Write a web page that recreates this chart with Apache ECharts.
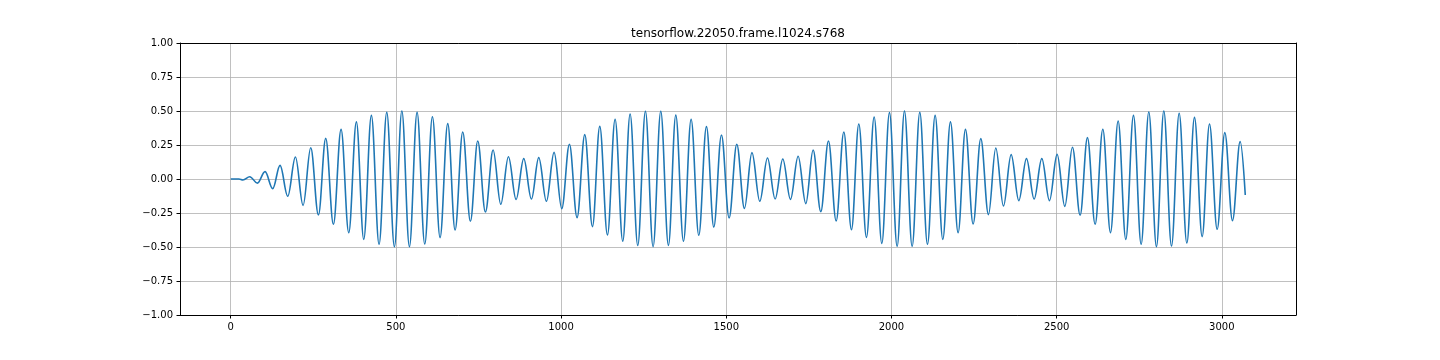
<!DOCTYPE html>
<html>
<head>
<meta charset="utf-8">
<script src="https://cdn.jsdelivr.net/npm/echarts@6/dist/echarts.min.js"></script>
<style>
html,body{margin:0;padding:0;background:#fff;}
#chart{width:1440px;height:360px;}
</style>
</head>
<body>
<div id="chart"></div>
<script>
var chartTitle = 'tensorflow.22050.frame.l1024.s768';
var xTicks = [0, 500, 1000, 1500, 2000, 2500, 3000];
var yTicks = [-1, -0.75, -0.5, -0.25, 0, 0.25, 0.5, 0.75, 1];
var sampleCount = 3072;

// Extrema of the waveform (sample index, amplitude)
var extremaX = [
  0, 25, 37, 57.5, 80.7, 103.9, 127.1, 149.3, 172.6, 195.8, 219.0, 242.2, 265.4, 287.6, 310.8, 334.0, 357.2, 380.4, 402.6, 425.8, 449.0, 472.3, 495.5, 518.0,
  540.9, 564.1, 587.3, 610.5, 633.7, 656.9, 679.1, 702.3, 725.5, 747.7, 770.9, 794.2, 817.4, 840.6, 863.8, 887.0, 910.2, 932.4, 955.6, 978.8, 1002.0, 1025.2, 1048.4,
  1071.7, 1094.9, 1117.1, 1140.3, 1163.5, 1186.7, 1208.9, 1232.1, 1255.3, 1278.5, 1301.7, 1324.9, 1347.2, 1370.4, 1393.6, 1416.8, 1440.0, 1462.2, 1485.4, 1508.6, 1531.8, 1555.0, 1577.7,
  1601.5, 1624.7, 1647.9, 1671.1, 1694.3, 1717.5, 1740.7, 1762.9, 1786.1, 1809.3, 1832.6, 1855.8, 1879.0, 1901.2, 1924.4, 1947.6, 1970.8, 1994.0, 2017.2, 2039.4, 2062.6, 2085.8, 2109.0,
  2132.2, 2155.4, 2178.6, 2201.8, 2224.0, 2247.2, 2270.4, 2293.6, 2315.8, 2339.0, 2362.3, 2385.5, 2408.7, 2431.9, 2455.1, 2478.3, 2501.5, 2524.7, 2547.9, 2571.1, 2593.3, 2616.5, 2639.8,
  2663.0, 2686.2, 2709.4, 2732.6, 2755.8, 2779.0, 2802.2, 2824.4, 2847.7, 2870.9, 2894.1, 2917.3, 2940.5, 2962.7, 2985.9, 3009.1, 3032.3, 3055.5, 3071
];
var extremaY = [
  0, 0, -0.007, 0.017, -0.03, 0.054, -0.071, 0.10, -0.127, 0.162, -0.194, 0.23, -0.265, 0.299, -0.333, 0.365, -0.395, 0.42, -0.444, 0.468, -0.48, 0.49, -0.498, 0.50,
  -0.498, 0.49, -0.478, 0.458, -0.431, 0.407, -0.375, 0.346, -0.311, 0.279, -0.243, 0.213, -0.186, 0.164, -0.15, 0.15, -0.147, 0.157, -0.164, 0.196, -0.218, 0.255, -0.284,
  0.326, -0.35, 0.387, -0.412, 0.439, -0.458, 0.478, -0.488, 0.498, -0.498, 0.498, -0.488, 0.47, -0.458, 0.439, -0.414, 0.385, -0.353, 0.324, -0.287, 0.255, -0.216, 0.194,
  -0.164, 0.154, -0.147, 0.147, -0.15, 0.167, -0.181, 0.213, -0.24, 0.279, -0.309, 0.346, -0.373, 0.404, -0.429, 0.456, -0.473, 0.488, -0.495, 0.5, -0.495, 0.49, -0.48,
  0.468, -0.444, 0.42, -0.395, 0.365, -0.331, 0.297, -0.262, 0.228, -0.199, 0.179, -0.159, 0.15, -0.147, 0.15, -0.159, 0.181, -0.201, 0.233, -0.267, 0.304, -0.333, 0.366,
  -0.395, 0.426, -0.444, 0.468, -0.48, 0.493, -0.498, 0.5, -0.493, 0.483, -0.471, 0.453, -0.424, 0.404, -0.37, 0.341, -0.306, 0.275, -0.118
];

var seriesData = extremaX.map(function (x, i) { return [x, extremaY[i]]; });
var pad = (sampleCount - 1) * 0.05;
var FONT = 'DejaVu Sans';
var spine = {show: true, onZero: false, lineStyle: {color: '#000', width: 1}};

var chart = echarts.init(document.getElementById('chart'), null, {renderer: 'canvas'});
chart.setOption({
  animation: false,
  backgroundColor: '#ffffff',
  graphic: [{
    type: 'text', x: 738, y: 33.5,
    style: {text: chartTitle, fill: '#000', font: '12px "DejaVu Sans"', align: 'center', verticalAlign: 'middle'}
  }],
  grid: {left: 180, right: 144, top: 43, bottom: 45, show: false},
  xAxis: [{
    type: 'value', min: -pad, max: sampleCount - 1 + pad, position: 'bottom',
    axisLine: spine,
    axisTick: {show: true, length: 3.5, inside: false, customValues: xTicks, lineStyle: {color: '#000', width: 1}},
    axisLabel: {show: true, customValues: xTicks, margin: 7, color: '#000', fontFamily: FONT, fontSize: 10,
      formatter: function (v) { return String(v); }},
    splitLine: {show: true, lineStyle: {color: '#b0b0b0', width: 0.8}}
  }, {
    type: 'value', min: -pad, max: sampleCount - 1 + pad, position: 'top',
    axisLine: spine, axisTick: {show: false}, axisLabel: {show: false}, splitLine: {show: false}
  }],
  yAxis: [{
    type: 'value', min: -1, max: 1, interval: 0.25, position: 'left',
    axisLine: spine,
    axisTick: {show: true, length: 3.5, inside: false, customValues: yTicks, lineStyle: {color: '#000', width: 1}},
    axisLabel: {show: true, customValues: yTicks, margin: 7, color: '#000', fontFamily: FONT, fontSize: 10,
      formatter: function (v) { return (v < 0 ? '\u2212' : '') + Math.abs(v).toFixed(2); }},
    splitLine: {show: true, lineStyle: {color: '#b0b0b0', width: 0.8}}
  }, {
    type: 'value', min: -1, max: 1, interval: 0.25, position: 'right',
    axisLine: spine, axisTick: {show: false}, axisLabel: {show: false}, splitLine: {show: false}
  }],
  series: [{
    type: 'line', data: seriesData, showSymbol: false, symbol: 'none',
    xAxisIndex: 0, yAxisIndex: 0,
    smooth: 0.364, smoothMonotone: 'x', clip: true,
    lineStyle: {color: '#1f77b4', width: 1.6}, z: 3
  }]
});
</script>
</body>
</html>
